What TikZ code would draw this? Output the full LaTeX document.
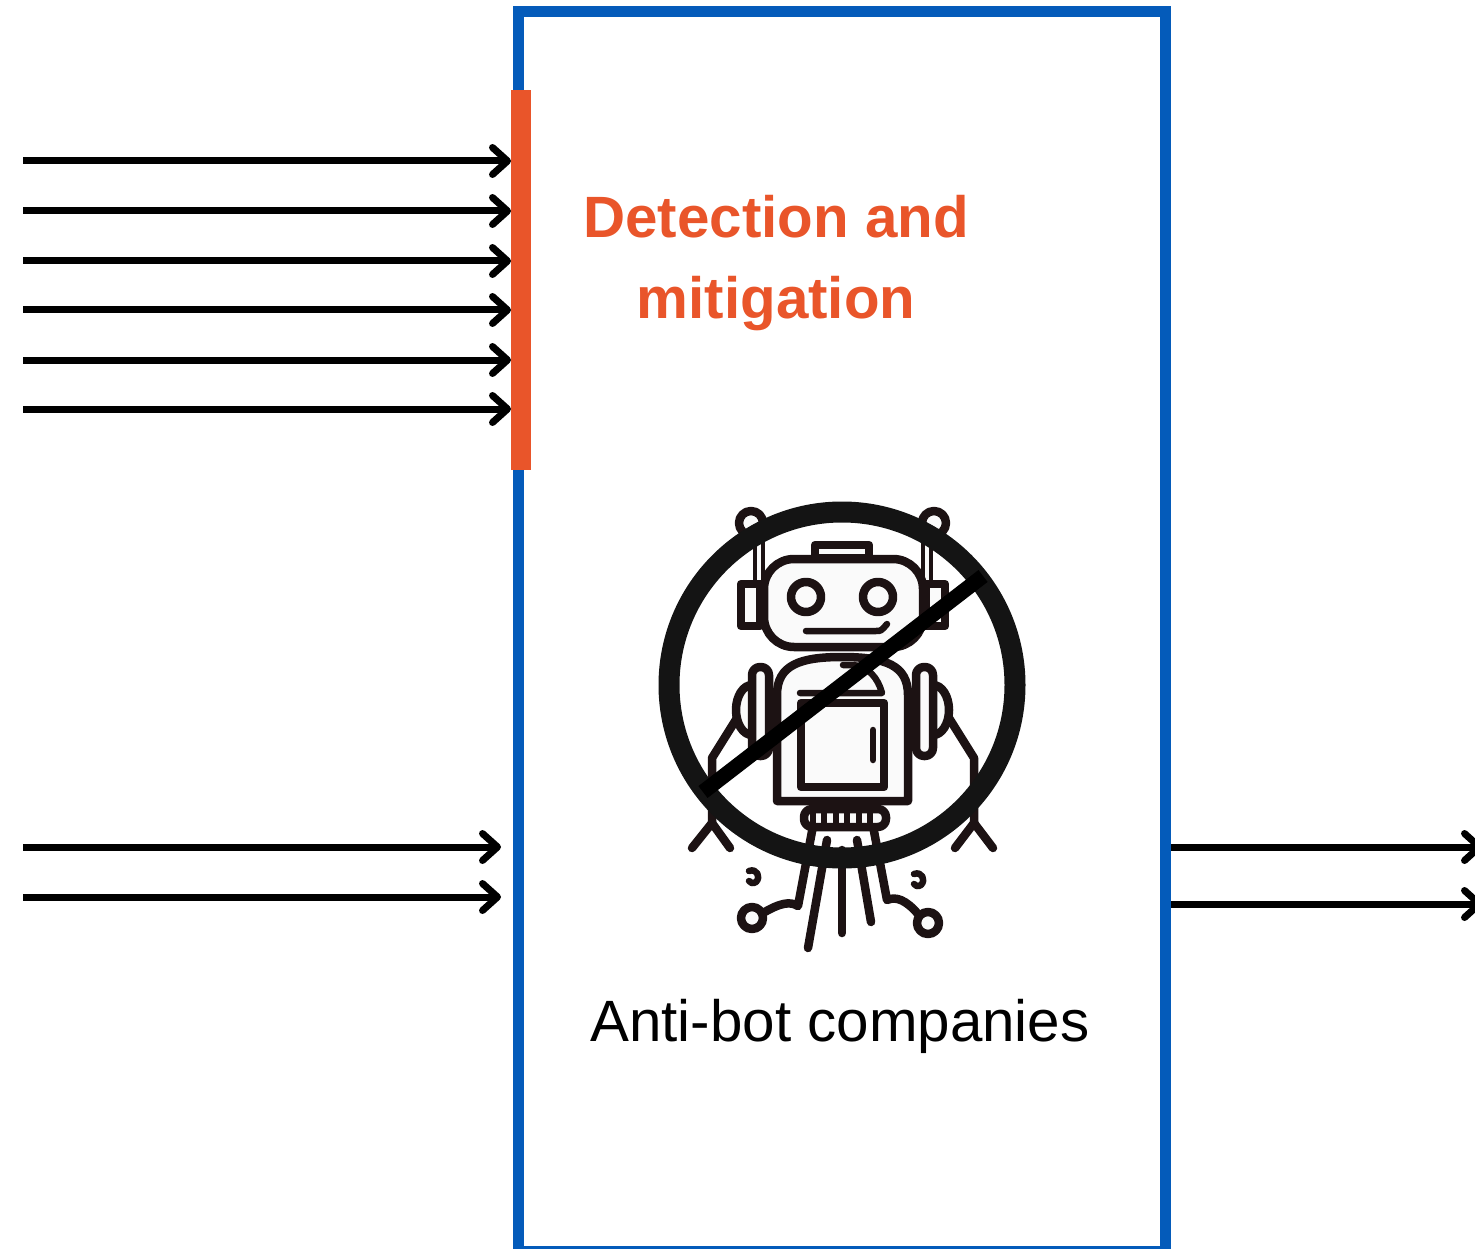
\documentclass[tikz,border=0pt]{standalone}
\usepackage{fontspec}
\setmainfont{Liberation Sans}
\usetikzlibrary{arrows.meta,calc}
\definecolor{boxblue}{RGB}{4,91,186}
\definecolor{alertorange}{RGB}{233,85,42}
\definecolor{ink}{RGB}{28,18,19}
\definecolor{ringgrey}{RGB}{20,20,20}
\definecolor{paper}{RGB}{250,250,250}

\begin{document}
\begin{tikzpicture}[x=1pt,y=-1pt,
  flow/.style={line width=7pt,
    -{Straight Barb[length=15pt,width=27pt,line cap=round,line join=round]}},
  bot/.style={line width=8.5pt,draw=ink,line cap=round,line join=round},
  botfill/.style={bot,fill=paper},
  thin bot/.style={bot,line width=6.5pt},
  label/.style={anchor=base,inner sep=0pt,font=\fontsize{58.3}{70}\selectfont},
  title/.style={label,text=alertorange,font=\bfseries\fontsize{58.3}{70}\selectfont}]

\useasboundingbox (0,0) rectangle (1475,1249);

% company frame and the detection layer on its left edge
\node[draw=boxblue,line width=11pt,minimum width=647pt,minimum height=1239pt,
      inner sep=0pt] (box) at (842,631.5) {};
\node[fill=alertorange,minimum width=20pt,minimum height=380pt,inner sep=0pt,
      outer sep=0pt] (gate) at (521,280) {};

% incoming traffic stopped at the detection layer
\foreach \y [count=\i] in {161,211,261,310,360,409} {
  \coordinate (src\i) at (23,\y);
  \draw[flow] (src\i) -- (src\i -| gate.west);
}
% incoming traffic reaching the frame
\coordinate (src7) at (23,847);
\coordinate (src8) at (23,897);
\draw[flow] (src7) -- ($(src7 -| box.west)+(-12,0)$);
\draw[flow] (src8) -- ($(src8 -| box.west)+(-12,0)$);
% outgoing traffic
\coordinate (out1) at (1483,847);
\coordinate (out2) at (1483,904);
\draw[flow] (out1 -| box.east) -- (out1);
\draw[flow] (out2 -| box.east) -- (out2);

% labels
\node[title] (title1) at (776,237.5) {Detection and};
\node[title] (title2) at (776,318.5) {mitigation};
\node[label] (company) at (840,1041.5) {Anti-bot companies};

% ---- robot icon ----
% antennas
\draw[botfill] (751,523) circle[radius=12pt];
\draw[botfill] (934,523) circle[radius=12pt];
\draw[bot,line width=4pt,fill=paper] (755,536) rectangle (763,582);
\draw[bot,line width=4pt,fill=paper] (923,536) rectangle (931,582);
% ears
\draw[botfill] (741,584) rectangle (760,626);
\draw[botfill] (926,584) rectangle (945,626);
% top cap and head
\draw[botfill] (815,545) rectangle (869,558);
\draw[botfill,rounded corners=30pt] (764,559) rectangle (923,647);
\draw[bot] (806,597) circle[radius=15pt];
\draw[bot] (878,597) circle[radius=15pt];
\draw[thin bot] (806,631) -- (876,631) .. controls (881,631) .. (887,624);
% legs
\draw[bot] (737,718) -- (712,758) -- (712,823);
\draw[bot] (692,848) -- (712,823) -- (730,848);
\draw[bot] (949,718) -- (974,758) -- (974,823);
\draw[bot] (955,848) -- (974,823) -- (993,848);
% shoulders and arms
\draw[botfill] (752,710) ellipse[x radius=16pt,y radius=25pt];
\draw[botfill] (933,710) ellipse[x radius=16pt,y radius=25pt];
\draw[botfill,rounded corners=8pt] (752,667) rectangle (769,756);
\draw[botfill,rounded corners=8pt] (916,667) rectangle (933,756);
% torso
\draw[botfill] (777,801) -- (777,695) .. controls (777,665) and (800,657) .. (842,657)
  .. controls (885,657) and (908,665) .. (908,695) -- (908,801) -- cycle;
\draw[thin bot] (800,693) -- (882,693) .. controls (878,678) and (868,666) .. (853,665) -- (843,665);
\draw[botfill] (801,703) rectangle (884,787);
\draw[thin bot] (873,730) -- (873,760);
% exhaust lines and joints
\draw[bot] (813,826) -- (798,906) .. controls (790,901) and (780,903) .. (763,913);
\draw[bot] (873,826) -- (887,900) .. controls (896,896) and (906,900) .. (918,914);
\draw[bot] (827,840) -- (808,948);
\draw[bot] (842,850) -- (842,933);
\draw[bot] (857,840) -- (871,922);
\draw[botfill] (752,918) circle[radius=11pt];
\draw[botfill] (928,923) circle[radius=11pt];
\draw[thin bot] (749,871) .. controls (757,868) and (761,877) .. (756,882)
  .. controls (753,884) and (750,883) .. (749,881);
\draw[thin bot] (914,874) .. controls (922,871) and (926,880) .. (921,885)
  .. controls (918,887) and (915,886) .. (914,884);
% skirt
\draw[botfill,rounded corners=8pt] (804,809) rectangle (886,827);
\foreach \x in {813,824,836,847,859,870}
  \draw[thin bot,line width=5.5pt] (\x,813) -- (\x,823);

% prohibition sign
\draw[draw=ringgrey,line width=21pt] (842,685) circle[radius=173pt];
\draw[black,line width=15pt] (703,792) -- (983,576);

\end{tikzpicture}
\end{document}
